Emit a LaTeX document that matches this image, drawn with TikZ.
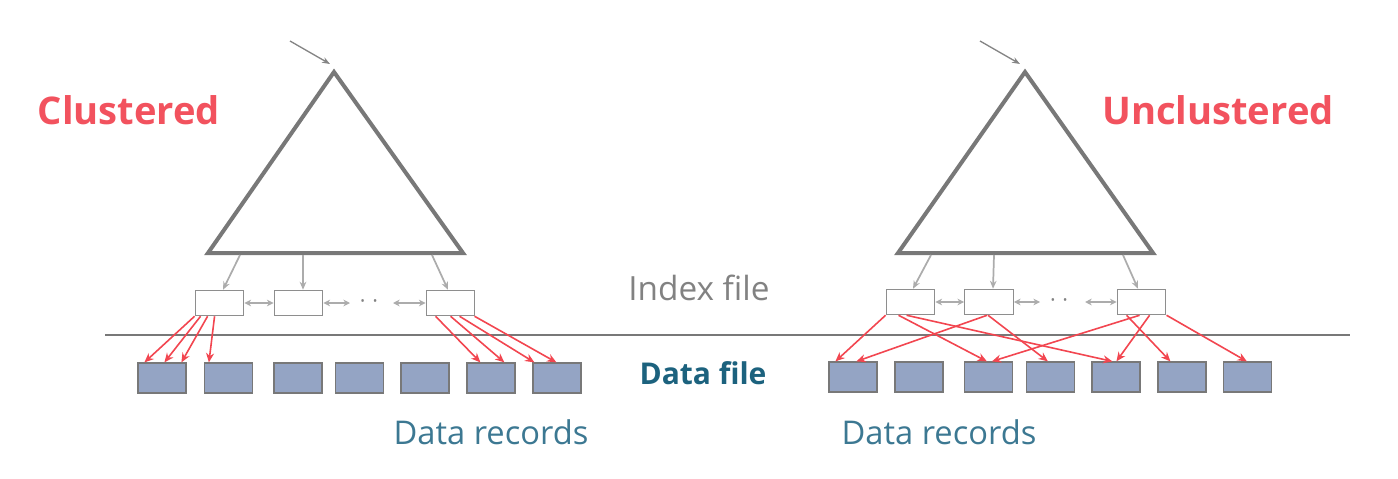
\documentclass[tikz,border=0pt]{standalone}
\usepackage{fontspec}
\setmainfont{Open Sans}
\usepackage{xcolor}
\definecolor{TitleRed}{RGB}{242,82,94}
\definecolor{IndexGray}{RGB}{130,130,130}
\definecolor{DataTeal}{RGB}{28,98,126}
\definecolor{RecTeal}{RGB}{60,120,146}
\definecolor{RecFill}{RGB}{148,164,196}
\definecolor{PtrRed}{RGB}{242,70,80}
\definecolor{LinkGray}{RGB}{172,172,172}
\definecolor{TreeGray}{RGB}{120,120,120}
\usetikzlibrary{arrows.meta, calc}

\begin{document}
\begin{tikzpicture}[
    x=0.75pt, y=-0.75pt,
    tree/.style={draw=TreeGray, line width=3pt, fill=white, line join=miter},
    idx/.style={rectangle, draw=IndexGray!90, line width=0.9pt, fill=white, minimum width=36.5pt, minimum height=19pt, inner sep=0pt},
    rec/.style={rectangle, draw=TreeGray, line width=0.9pt, fill=RecFill, minimum width=36pt, minimum height=22.5pt, inner sep=0pt},
    down/.style={-{Stealth[length=6pt, width=5pt]}, draw=LinkGray, line width=1.3pt},
    link/.style={{Stealth[length=5pt, width=5pt]}-{Stealth[length=5pt, width=5pt]}, draw=LinkGray, line width=1.3pt},
    ptr/.style={-{Stealth[length=7pt, width=6pt]}, draw=PtrRed, line width=1.2pt},
    root/.style={-{Stealth[length=6pt, width=4.5pt]}, draw=TreeGray!90, line width=1pt},
    dots/.style={text=IndexGray, font=\fontsize{16}{16}\selectfont, inner sep=0pt},
]
\useasboundingbox (0,0) rectangle (1398,478);

% Titles
\node[text=TitleRed, font=\fontsize{28.6}{29}\selectfont\bfseries] (clus) at (129,110) {Clustered};
\node[text=TitleRed, font=\fontsize{28.6}{29}\selectfont\bfseries] (unclus) at (1218,110) {Unclustered};

% Trees
\draw[tree] (334,72) -- (463,253) -- (208,253) -- cycle;
\draw[tree] (1025,72) -- (1153,253) -- (898,253) -- cycle;
\coordinate (rootL0) at (290,41);
\coordinate (rootL) at (330,64);
\coordinate (rootR0) at (980,41);
\coordinate (rootR) at (1020,64);
\draw[root] (rootL0) -- (rootL);
\draw[root] (rootR0) -- (rootR);

% File labels
\node[text=IndexGray, font=\fontsize{25}{25}\selectfont] (ifile) at (699,288) {Index file};
\node[text=DataTeal, font=\fontsize{22.5}{23}\selectfont\bfseries] (dfile) at (703,373) {Data file};
\draw[draw=TreeGray, line width=2pt] (105,335) coordinate (sepL) -- (1350,335) coordinate (sepR);

% Index pages
\node[idx] (idxL1) at (219.5,303) {};
\node[idx] (idxL2) at (298.5,303) {};
\node[idx] (idxL3) at (450.5,303) {};
\node[idx] (idxR1) at (910.5,302) {};
\node[idx] (idxR2) at (989,302) {};
\node[idx] (idxR3) at (1141.5,302) {};

% Leaf links
\node[dots] (dotsL) at (369,304) {·\hspace{5pt}·};
\node[dots] (dotsR) at (1059,303) {·\hspace{5pt}·};
\coordinate (dLa) at (350,303);
\coordinate (dLb) at (393,303);
\coordinate (dRa) at (1040,302);
\coordinate (dRb) at (1085,302);
\draw[link] (idxL1) -- (idxL2);
\draw[link] (idxL2) -- (dLa);
\draw[link] (dLb) -- (idxL3);
\draw[link] (idxR1) -- (idxR2);
\draw[link] (idxR2) -- (dRa);
\draw[link] (dRb) -- (idxR3);

% Tree to leaves
\coordinate (tL1) at (240,255);
\coordinate (tL2) at (303,255);
\coordinate (tL3) at (432,255);
\coordinate (tR1) at (931,255);
\coordinate (tR2) at (994,255);
\coordinate (tR3) at (1123,255);
\draw[down] (tL1) -- (idxL1.north west -| 223,0);
\draw[down] (tL2) -- (idxL2.north west -| 303,0);
\draw[down] (tL3) -- (idxL3.north west -| 448,0);
\draw[down] (tR1) -- (idxR1.north west -| 913,0);
\draw[down] (tR2) -- (idxR2.north west -| 993,0);
\draw[down] (tR3) -- (idxR3.north west -| 1138,0);

% Data records
\foreach \i/\x in {1/162, 2/228.5, 3/298, 4/359.5, 5/425, 6/491, 7/557}
    \node[rec] (recL\i) at (\x,378) {};
\foreach \i/\x in {1/853, 2/919, 3/988.5, 4/1050.5, 5/1116, 6/1182, 7/1247.5}
    \node[rec] (recR\i) at (\x,377) {};
\node[text=RecTeal, font=\fontsize{24.5}{25}\selectfont] (recsL) at (491,432) {Data records};
\node[text=RecTeal, font=\fontsize{24.5}{25}\selectfont] (recsR) at (939,432) {Data records};

% Clustered pointers
\draw[ptr] ($(idxL1.south west)+(0,0)$) -- ($(recL1.north west)+(7,0)$);
\draw[ptr] ($(idxL1.south west)+(6,0)$) -- ($(recL1.north west)+(27,0)$);
\draw[ptr] ($(idxL1.south west)+(13,0)$) -- ($(recL1.north west)+(44,0)$);
\draw[ptr] ($(idxL1.south west)+(20,0)$) -- ($(recL2.north west)+(5,0)$);
\draw[ptr] ($(idxL3.south west)+(10,0)$) -- ($(recL6.north west)+(14,0)$);
\draw[ptr] ($(idxL3.south west)+(25,0)$) -- ($(recL6.north west)+(38,0)$);
\draw[ptr] ($(idxL3.south west)+(34,0)$) -- ($(recL7.north west)+(2,0)$);
\draw[ptr] ($(idxL3.south west)+(49,0)$) -- ($(recL7.north west)+(24,0)$);

% Unclustered pointers
\draw[ptr] ($(idxR1.south west)+(0,0)$) -- ($(recR1.north west)+(7,0)$);
\draw[ptr] ($(idxR1.south west)+(13,0)$) -- ($(recR3.north west)+(23,0)$);
\draw[ptr] ($(idxR1.south west)+(21,0)$) -- ($(recR5.north west)+(21,0)$);
\draw[ptr] ($(idxR2.south west)+(23,0)$) -- ($(recR1.north west)+(28,0)$);
\draw[ptr] ($(idxR2.south west)+(24,0)$) -- ($(recR4.north west)+(22,0)$);
\draw[ptr] ($(idxR3.south west)+(23,0)$) -- ($(recR3.north west)+(28,0)$);
\draw[ptr] ($(idxR3.south west)+(33,0)$) -- ($(recR5.north west)+(25,0)$);
\draw[ptr] ($(idxR3.south west)+(10,0)$) -- ($(recR6.north west)+(13,0)$);
\draw[ptr] ($(idxR3.south west)+(50,0)$) -- ($(recR7.north west)+(24,0)$);

\end{tikzpicture}
\end{document}
